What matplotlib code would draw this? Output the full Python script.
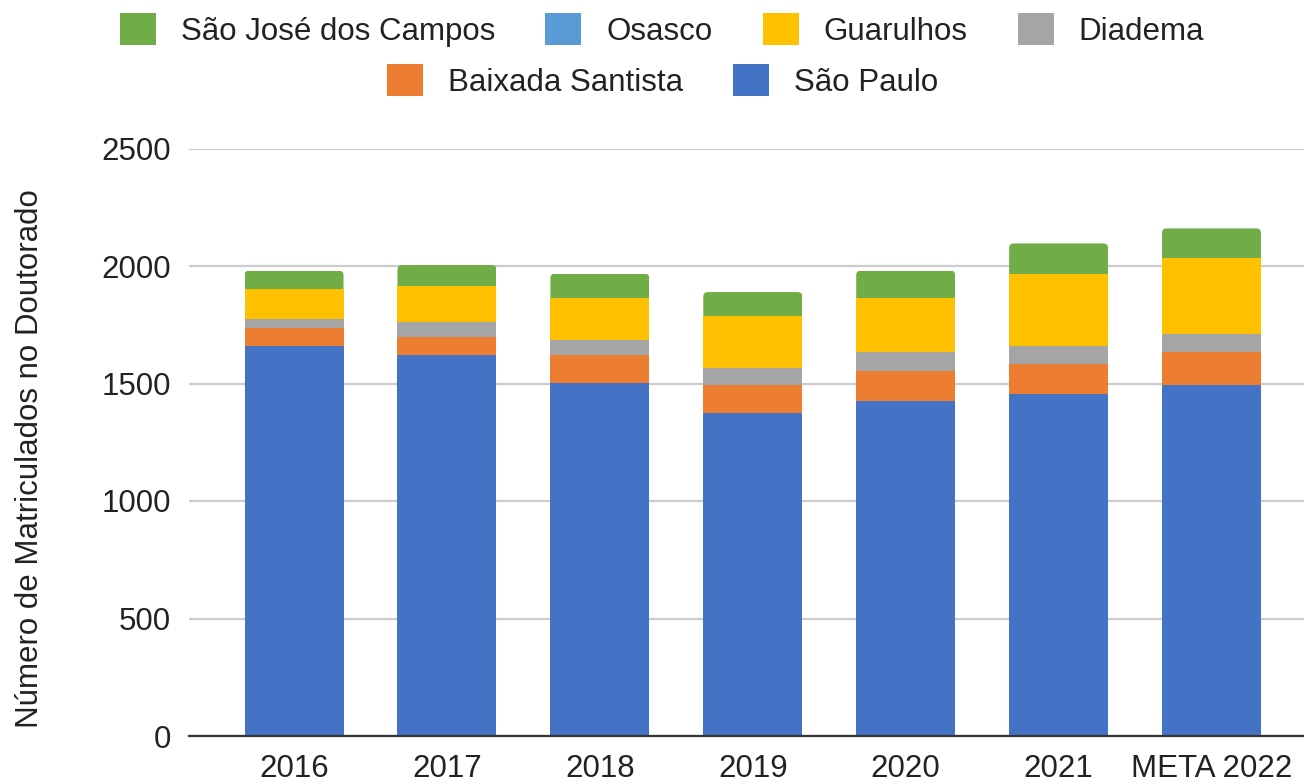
import matplotlib
matplotlib.use("Agg")
import matplotlib.pyplot as plt
from matplotlib.patches import FancyBboxPatch, Patch
import numpy as np

plt.rcParams['font.family'] = ['Liberation Sans', 'DejaVu Sans']

categories = ["2016", "2017", "2018", "2019", "2020", "2021", "META 2022"]
sao_paulo = [1659, 1620, 1504, 1376, 1427, 1454, 1493]
baixada_santista = [78, 77, 116, 117, 128, 128, 140]
diadema = [37, 64, 63, 75, 77, 77, 77]
guarulhos = [129, 155, 182, 220, 233, 309, 322]
osasco = [0, 0, 0, 0, 0, 0, 0]
sao_jose = [77, 88, 102, 101, 115, 128, 128]

# stack order bottom -> top
series = [
    ("São Paulo", sao_paulo, "#4472C4"),
    ("Baixada Santista", baixada_santista, "#ED7D31"),
    ("Diadema", diadema, "#A5A5A5"),
    ("Guarulhos", guarulhos, "#FFC000"),
    ("Osasco", osasco, "#5B9BD5"),
    ("São José dos Campos", sao_jose, "#70AD47"),
]

W, H = 1304, 784
FS = 22.5
fig = plt.figure(figsize=(W / 100, H / 100), dpi=100)
ax = fig.add_axes([189 / W, 1 - 736 / H, 1 - 189 / W, (736 - 148.5) / H])

x = np.arange(len(categories))
bw = 0.647
bottom = np.zeros(len(categories))
containers = {}
for name, vals, col in series:
    vals = np.array(vals, dtype=float)
    bars = ax.bar(x, vals, bw, bottom=bottom, color=col, linewidth=0, zorder=3, label=name)
    containers[name] = bars
    bottom = bottom + vals

ax.set_xlim(-0.687, 6.605)
ax.set_ylim(0, 2500)
ax.set_yticks([0, 500, 1000, 1500, 2000, 2500])
ax.set_xticks(x)
ax.set_xticklabels(categories)

fig.canvas.draw()
# round the top corners of the top segment of each stack
px_x = ax.transData.transform((1, 0))[0] - ax.transData.transform((0, 0))[0]
px_y = ax.transData.transform((0, 1))[1] - ax.transData.transform((0, 0))[1]
radius_px = 4.5
rx = radius_px / px_x
aspect = px_x / px_y
for rect in containers["São José dos Campos"]:
    x0, y0 = rect.get_x(), rect.get_y()
    w, h = rect.get_width(), rect.get_height()
    ext = 3 * radius_px / px_y
    clip = FancyBboxPatch((x0, y0 - ext), w, h + ext,
                          boxstyle=f"round,pad=0,rounding_size={rx}",
                          mutation_aspect=aspect, transform=ax.transData)
    rect.set_clip_path(clip)

for s in ["top", "right", "left"]:
    ax.spines[s].set_visible(False)
ax.spines["bottom"].set_color("#333333")
ax.spines["bottom"].set_linewidth(1.6)
ax.spines["bottom"].set_zorder(4)
ax.grid(axis="y", color="#cccccc", linewidth=1.6, zorder=0)
ax.set_axisbelow(True)
ax.tick_params(axis="both", length=0, labelsize=FS, colors="#222222")
ax.tick_params(axis="y", pad=13)
ax.tick_params(axis="x", pad=13)

ax.set_ylabel("Número de Matriculados no Doutorado", fontsize=FS, color="#222222",
              ha="center", va="center")
ax.yaxis.set_label_coords(-0.1426, 0.473)

def handles_for(names):
    cmap = {n: c for n, _, c in series}
    return [Patch(facecolor=cmap[n], edgecolor="none") for n in names]

row1 = ["São José dos Campos", "Osasco", "Guarulhos", "Diadema"]
row2 = ["Baixada Santista", "São Paulo"]
fs_px = FS * 100 / 72
common = dict(frameon=False, loc="center", fontsize=FS, handlelength=36 / fs_px,
              handleheight=36 / fs_px, handletextpad=25 / fs_px,
              columnspacing=50 / fs_px, borderpad=0, labelcolor="#222222")
fig.legend(handles_for(row1), row1, ncol=4, bbox_to_anchor=(662 / W, 1 - 30 / H), **common)
fig.legend(handles_for(row2), row2, ncol=2, bbox_to_anchor=(663 / W, 1 - 81 / H), **common)

fig.savefig("out.png", dpi=100, facecolor="white")
